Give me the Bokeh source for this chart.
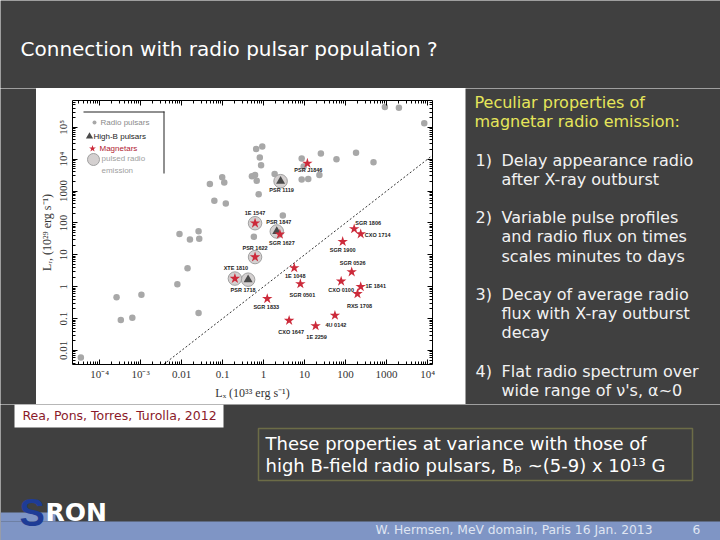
from bokeh.plotting import figure
from bokeh.layouts import row, column
from bokeh.models import (LogAxis, FixedTicker, CustomJSTickFormatter, Label, BoxAnnotation,
                          Legend, LegendItem, ColumnDataSource)
from bokeh.embed import file_html
from bokeh.resources import INLINE
from bokeh.core.properties import value

# ---------------- data (Lx in 1e33 erg/s, Lr in radio units) ----------------
radio_lx = [3.5e-5, 2.6e-4, 3.3e-4, 6.3e-4, 1.05e-3, 7.9e-3, 0.014, 0.026, 0.0089, 0.016,
            0.026, 0.027, 0.049, 0.098, 0.11, 0.063, 0.12, 0.66, 0.93, 0.81,
            0.87, 0.52, 0.62, 0.68, 0.76, 1.86, 8.5, 8.5, 12.3, 23,
            25, 60, 180, 480, 910, 2000, 8300, 9.5, 2.95, 0.58]
radio_lr = [0.006, 0.47, 0.091, 0.107, 0.56, 1.2, 3.8, 0.15, 45, 30,
            55, 32, 1660, 2700, 1860, 500, 410, 21000, 25000, 11200,
            6500, 2900, 3200, 2100, 800, 3400, 10500, 2300, 2400, 3200,
            15000, 10000, 16000, 8000, 430000, 410000, 135000, 5900, 170, 37]

highb_names = ["PSR 1119", "PSR 1847", "PSR 1718"]
highb_lx = [2.6, 2.1, 0.42]
highb_lr = [2040, 54, 1.66]

mag_names = ["PSR J1846", "1E 1547", "SGR 1627", "PSR 1622", "XTE 1810", "1E 1048",
             "SGR 0501", "SGR 1833", "SGR 1806", "CXO 1714", "SGR 1900", "SGR 0526",
             "CXO 0100", "1E 1841", "RXS 1708", "CXO 1647", "1E 2259", "4U 0142"]
mag_lx = [11.7, 0.62, 2.5, 0.62, 0.20, 5.6, 7.9, 1.23, 162, 234, 85, 141,
          78, 234, 195, 4.2, 18.6, 55]
mag_lr = [7400, 98, 44, 8.5, 1.8, 3.9, 1.23, 0.42, 65, 45, 26, 2.9,
          1.48, 1.0, 0.60, 0.087, 0.059, 0.126]

pulsed_names = ["PSR 1119", "PSR 1847", "PSR 1718", "1E 1547", "PSR 1622", "XTE 1810"]

x_limits = [2.19e-5, 1.318e4]
y_limits = [3.63e-3, 6.92e5]
equality_line = [y_limits[0], x_limits[1]]  # L_R = L_X reference line

x_tick_exps = [-4, -3, -2, -1, 0, 1, 2, 3, 4]
x_tick_labels = ["10⁻⁴", "10⁻³", "0.01", "0.1", "1", "10", "100", "1000", "10⁴"]
y_tick_exps = [-2, -1, 0, 1, 2, 3, 4, 5]
y_tick_labels = ["0.01", "0.1", "1", "10", "100", "1000", "10⁴", "10⁵"]

legend_labels = ["Radio pulsars", "High-B pulsars", "Magnetars", "pulsed radio"]

# ---------------- layout styling (not data) ----------------
label_offsets = {
    "PSR J1846": (1, 7), "PSR 1119": (1, 9), "1E 1547": (0, -10), "PSR 1847": (2, -9),
    "SGR 1627": (2, 9), "PSR 1622": (0, -9), "XTE 1810": (1, -11), "PSR 1718": (-5, 10),
    "1E 1048": (1, 8), "SGR 0501": (2, 11), "SGR 1833": (-1, 8), "SGR 1806": (14, -6),
    "CXO 1714": (17, 1), "SGR 1900": (0, 8), "SGR 0526": (1, -9), "CXO 0100": (0, 9),
    "1E 1841": (15, -1), "RXS 1708": (2, 12), "CXO 1647": (2, 11), "1E 2259": (1, 11),
    "4U 0142": (1, 10),
}

BG = "#404040"


def deco(w, h, bg=BG):
    f = figure(width=w, height=h, x_range=(0, w), y_range=(0, h), output_backend="svg",
               toolbar_location=None, min_border=0, x_axis_location=None,
               y_axis_location=None, background_fill_color=bg, border_fill_color=bg,
               outline_line_color=None, frame_align=False)
    f.grid.visible = False
    return f


def box(f, ox, oy, x0, y0, x1, y1, fill="white", line=None, lw=1, fill_alpha=1.0,
        level="annotation"):
    bx = BoxAnnotation(left=x0 - ox, right=x1 - ox, top=y0 - oy, bottom=y1 - oy,
                       left_units="canvas", right_units="canvas",
                       top_units="canvas", bottom_units="canvas",
                       fill_color=fill, fill_alpha=fill_alpha, line_color=line,
                       line_width=lw, level=level)
    f.add_layout(bx)


def lab(f, ox, oy, X, Y, text, size, color, font="DejaVu Sans", style="normal"):
    L = Label(x=X - ox, y=Y - oy, x_units="canvas", y_units="canvas", text=text,
              text_font=font, text_font_size=size, text_color=color,
              text_font_style=style, text_baseline="middle", text_align="left")
    f.add_layout(L)


# ---------------- top tile (title) ----------------
top = deco(720, 88)
lab(top, 0, 0, 20, 48, "Connection with radio pulsar population ?", "20px", "white")

# ---------------- left spacer ----------------
left = deco(36, 316)

# ---------------- chart ----------------
CX, CY = 36, 88
p = figure(width=429, height=316, x_axis_type="log", y_axis_type="log",
           x_range=tuple(x_limits), y_range=tuple(y_limits),
           output_backend="svg", toolbar_location=None, frame_align=False,
           min_border_left=36, min_border_right=33, min_border_top=12, min_border_bottom=40,
           background_fill_color="white", border_fill_color="white", outline_line_color=None)
p.grid.visible = False

major_x = [10.0 ** e for e in x_tick_exps]
major_y = [10.0 ** e for e in y_tick_exps]
minor_x = [m * 10.0 ** e for e in range(-5, 5) for m in range(2, 10)]
minor_y = [m * 10.0 ** e for e in range(-3, 6) for m in range(2, 10)]

fmt_code = """
const e = Math.round(Math.log10(tick));
const i = exps.indexOf(e);
return i >= 0 ? labels[i] : "";
"""
xfmt = CustomJSTickFormatter(args=dict(exps=x_tick_exps, labels=x_tick_labels), code=fmt_code)
yfmt = CustomJSTickFormatter(args=dict(exps=y_tick_exps, labels=y_tick_labels), code=fmt_code)
blank = CustomJSTickFormatter(code='return "";')


def style_axis(ax):
    ax.axis_line_color = "black"
    ax.axis_line_width = 1
    ax.major_tick_in = 5
    ax.major_tick_out = 0
    ax.minor_tick_in = 3
    ax.minor_tick_out = 0
    ax.major_tick_line_color = "black"
    ax.minor_tick_line_color = "black"
    ax.major_label_text_font = "Liberation Serif"
    ax.major_label_text_font_size = "11px"
    ax.major_label_text_color = "#333333"
    ax.axis_label_text_font = "Liberation Serif"
    ax.axis_label_text_font_size = "12px"
    ax.axis_label_text_font_style = "normal"
    ax.axis_label_text_color = "#333333"


xa = p.xaxis[0]
xa.ticker = FixedTicker(ticks=major_x, minor_ticks=minor_x)
xa.formatter = xfmt
xa.axis_label = "Lₓ (10³³ erg s⁻¹)"
xa.major_label_standoff = 3
xa.axis_label_standoff = 3
style_axis(xa)

ya = p.yaxis[0]
ya.ticker = FixedTicker(ticks=major_y, minor_ticks=minor_y)
ya.formatter = yfmt
ya.axis_label = "Lᵣ, (10²⁹ erg s⁻¹)"
ya.major_label_orientation = "vertical"
ya.major_label_standoff = 3
ya.axis_label_standoff = 1
style_axis(ya)

top_ax = LogAxis(ticker=FixedTicker(ticks=major_x, minor_ticks=minor_x), formatter=blank,
                 major_label_standoff=0)
style_axis(top_ax)
p.add_layout(top_ax, "above")
right_ax = LogAxis(ticker=FixedTicker(ticks=major_y, minor_ticks=minor_y), formatter=blank,
                   major_label_standoff=0)
style_axis(right_ax)
p.add_layout(right_ax, "right")

p.line(equality_line, equality_line, line_color="black", line_width=0.8, line_dash="2 2")

r_radio = p.scatter(radio_lx, radio_lr, marker="circle", size=6.5, fill_color="#a8a8a8",
                    line_color=None)

all_names = highb_names + mag_names
all_lx = highb_lx + mag_lx
all_lr = highb_lr + mag_lr
halo_lx = [all_lx[all_names.index(n)] for n in pulsed_names]
halo_lr = [all_lr[all_names.index(n)] for n in pulsed_names]
r_halo = p.scatter(halo_lx, halo_lr, marker="circle", size=13.5, fill_color="#d4d0d0",
                   line_color="#a0a0a0", line_width=1)

r_highb = p.scatter(highb_lx, highb_lr, marker="triangle", size=9, fill_color="#4a4a4a",
                    line_color=None)
r_mag = p.scatter(mag_lx, mag_lr, marker="star", size=11, fill_color="#cc2a3a",
                  line_color=None)

lab_src = ColumnDataSource(dict(
    x=all_lx, y=all_lr, text=all_names,
    dx=[label_offsets[n][0] for n in all_names],
    dy=[label_offsets[n][1] for n in all_names]))
p.text(x="x", y="y", text="text", x_offset="dx", y_offset="dy", source=lab_src,
       text_font=value("Liberation Sans"), text_font_size="5.5px", text_font_style="bold",
       text_align="center", text_baseline="middle", text_color="#222222")


def add_leg(rend, s, cx, cy):
    lft = cx - s / 2
    bottom = cy + s / 2
    leg = Legend(items=[LegendItem(label=" ", renderers=[rend])],
                 location=(lft - 72, 364 - bottom),
                 glyph_width=s, glyph_height=s, label_height=s, label_width=1,
                 padding=0, margin=0, spacing=0, label_standoff=0,
                 background_fill_alpha=0, border_line_color=None,
                 label_text_font_size="8px")
    p.add_layout(leg)


add_leg(r_radio, 10, 94, 122)
add_leg(r_highb, 18, 89, 136)
add_leg(r_mag, 18, 92, 148)
add_leg(r_halo, 30, 93, 159)
legend_text_pos = [(100, 122, "#8a8a8a"), (93, 136, "#222222"), (99, 148, "#b02030"),
                   (101, 158, "#a0a0a0")]
for (X, Y, c), t in zip(legend_text_pos, legend_labels):
    lab(p, CX, CY, X, Y, t, "8px", c, font="Liberation Sans")
lab(p, CX, CY, 101, 170, "emission", "8px", "#a0a0a0", font="Liberation Sans")
box(p, CX, CY, 83, 111, 164, 112, fill="#222222")
box(p, CX, CY, 163, 111, 164, 173, fill="#222222")

# ---------------- right text tile ----------------
RX, RY = 465, 88
right = deco(255, 316)
YEL = "#e6e65a"
WH = "#f2f2f2"
right_lines = [
    (474, 102, "Peculiar properties of", YEL),
    (474, 121, "magnetar radio emission:", YEL),
    (475, 160, "1)", WH), (501, 160, "Delay appearance radio", WH),
    (501, 179, "after X-ray outburst", WH),
    (475, 217, "2)", WH), (501, 217, "Variable pulse profiles", WH),
    (501, 236, "and radio flux on times", WH),
    (501, 256, "scales minutes to days", WH),
    (475, 294, "3)", WH), (501, 294, "Decay of average radio", WH),
    (501, 313, "flux with X-ray outburst", WH),
    (501, 332, "decay", WH),
    (475, 371, "4)", WH), (501, 371, "Flat radio spectrum over", WH),
    (501, 390, "wide range of ν's,  α~0", WH),
]
for X, Y, t, c in right_lines:
    lab(right, RX, RY, X, Y, t, "16px", c)

# ---------------- bottom tile ----------------
BX, BY = 0, 404
bot = deco(720, 136)
box(bot, BX, BY, 14, 404, 223, 427, fill="white")
lab(bot, BX, BY, 22, 415, "Rea, Pons, Torres, Turolla, 2012", "12.5px", "#8a1a2a")
box(bot, BX, BY, 258, 428, 692, 480, fill=None, fill_alpha=0, line="#d4d45a", lw=1.5)
lab(bot, BX, BY, 265, 443, "These properties at variance with those of", "18px", "white")
lab(bot, BX, BY, 265, 465, "high B-field radio pulsars, Bₚ ~(5-9) x 10¹³ G", "18px", "white")
box(bot, BX, BY, 0, 521, 720, 540, fill="#7f95c5")
box(bot, BX, BY, 0, 512, 55, 521, fill="#7f95c5")
lab(bot, BX, BY, 19, 512, "S", "38px", "#1e3c96", font="Liberation Sans", style="bold")
lab(bot, BX, BY, 45, 512, "RON", "25px", "white", font="DejaVu Sans", style="bold")
lab(bot, BX, BY, 375, 529, "W. Hermsen, MeV domain, Paris 16 Jan. 2013", "12.3px", "#dfe5f2")
lab(bot, BX, BY, 692, 529, "6", "12.3px", "#dfe5f2")

layout = column(top, row(left, p, right), bot)
open("out.html", "w").write(file_html(layout, INLINE))
